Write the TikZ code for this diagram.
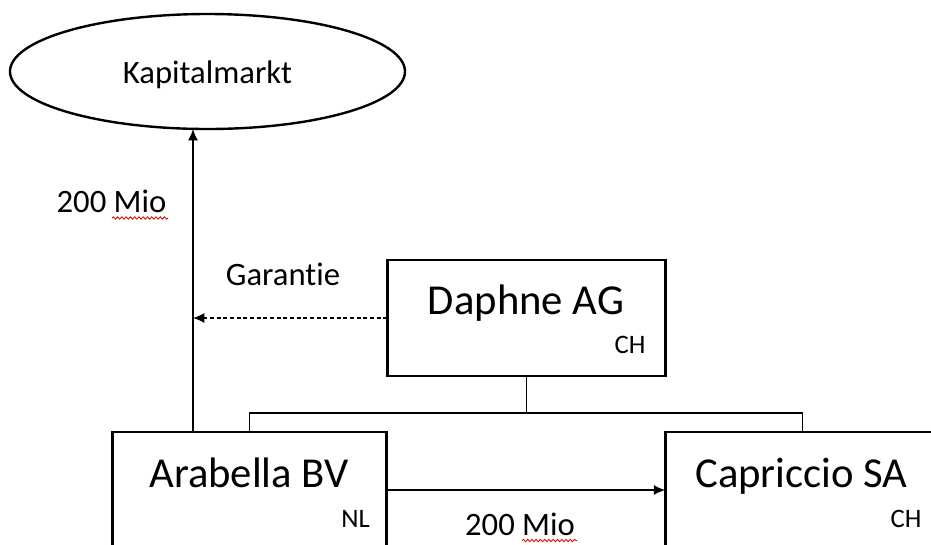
\documentclass[tikz,border=0pt]{standalone}
\usepackage{fontspec}
\setmainfont{Carlito}[Ligatures=NoCommon]
\usetikzlibrary{arrows.meta,shapes.geometric,decorations.pathmorphing}
\begin{document}
\begin{tikzpicture}[x=0.75pt,y=-0.75pt,
  box/.style={draw,line width=2.2pt,rectangle,inner sep=0pt,outer sep=0pt},
  conn/.style={line width=1.1pt},
  arr/.style={conn,-{Latex[length=8.5pt,width=7.5pt]}},
  big/.style={font=\fontsize{32}{38}\selectfont,anchor=base,inner sep=0pt},
  lbl/.style={font=\fontsize{24.5}{29}\selectfont,anchor=base,inner sep=0pt},
  small/.style={font=\fontsize{20}{24}\selectfont,anchor=base,inner sep=0pt},
  squiggle/.style={draw=red!85!black,line width=0.6pt,decorate,
    decoration={snake,amplitude=0.9pt,segment length=3.2pt}}]
\useasboundingbox (0,0) rectangle (931,544);
\clip (0,0) rectangle (931,544);

% capital market
\node[draw,ellipse,line width=1.8pt,inner sep=0pt,outer sep=0pt,
      minimum width=296.25pt,minimum height=86.25pt] (km) at (207.5,71.5) {};
\node[lbl] (kmt) at (207.5,83) {Kapitalmarkt};

% companies
\node[box,minimum width=209pt,minimum height=87pt] (dp) at (526.5,318) {};
\node[big] (dpt) at (526,314) {Daphne AG};
\node[small] (dpc) at (630,353) {CH};

\node[box,minimum width=206pt,minimum height=126pt] (ab) at (249.5,516) {};
\node[big] (abt) at (249,487) {Arabella BV};
\node[small] (abc) at (355.5,527) {NL};

\node[box,minimum width=206pt,minimum height=126pt] (cp) at (802.5,516) {};
\node[big] (cpt) at (801.5,487) {Capriccio SA};
\node[small] (cpc) at (906,527) {CH};

% helper positions
\coordinate (upx) at (193,0);
\coordinate (bus) at (0,413);
\coordinate (flow) at (0,490);

% group structure
\draw[conn] (dp.south) -- (dp.south |- bus);
\draw[conn] (ab.north) -- (ab.north |- bus) -| (cp.north);

% bond issue and guarantee
\draw[arr] (ab.north -| upx) -- (km.south -| upx);
\draw[arr,dashed,dash pattern=on 3pt off 2pt] (dp.west) -- (dp.west -| upx);
\node[lbl] (garl) at (283,285) {Garantie};
\node[lbl] (upl) at (111.5,212) {200 Mio};

% loan to Capriccio
\draw[arr] (ab.east |- flow) -- (cp.west |- flow);
\node[lbl] (lnl) at (520,535) {200 Mio};

% spelling marks under "Mio"
\draw[squiggle] (112,218) -- (168,218);
\draw[squiggle] (522,540.5) -- (577,540.5);
\end{tikzpicture}
\end{document}
